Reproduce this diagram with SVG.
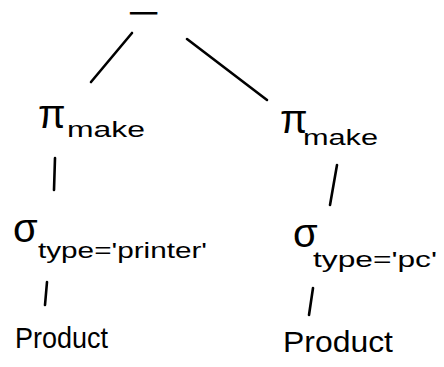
<svg xmlns="http://www.w3.org/2000/svg" width="444" height="367" viewBox="0 0 444 367">
<style>
text{font-family:"Liberation Sans","DejaVu Sans",sans-serif;fill:#000}
.op{font-size:40px}
.sub{font-size:22px}
.rel{font-size:29px}
#edges line{stroke:#000;stroke-width:2.6;stroke-linecap:round}
</style>
<rect width="444" height="367" fill="#fff"/>
<g id="edges">
<line x1="132" y1="33" x2="91" y2="82"/>
<line x1="187" y1="39" x2="267" y2="100"/>
<line x1="55" y1="158" x2="54" y2="190"/>
<line x1="337" y1="165" x2="330" y2="205"/>
<line x1="47" y1="282" x2="45" y2="305"/>
<line x1="313" y1="288" x2="309" y2="315"/>
</g>
<g id="minus"><text x="129" y="19" font-size="18px" stroke="#000" stroke-width="1.2" textLength="29" lengthAdjust="spacingAndGlyphs">−</text></g>
<g id="pi-left"><text class="op" x="38" y="128">π</text><text class="sub" x="67" y="137" textLength="78" lengthAdjust="spacingAndGlyphs">make</text></g>
<g id="pi-right"><text class="op" x="280" y="133">π</text><text class="sub" x="303" y="145" textLength="75" lengthAdjust="spacingAndGlyphs">make</text></g>
<g id="sigma-left"><text class="op" x="13" y="242">σ</text><text class="sub" x="38" y="258" textLength="169" lengthAdjust="spacingAndGlyphs">type='printer'</text></g>
<g id="sigma-right"><text class="op" x="293" y="247">σ</text><text class="sub" x="313" y="267" font-size="24px" textLength="124" lengthAdjust="spacingAndGlyphs">type='pc'</text></g>
<g id="product-left"><text class="rel" x="15" y="348" textLength="93" lengthAdjust="spacingAndGlyphs">Product</text></g>
<g id="product-right"><text class="rel" x="283" y="352" textLength="110" lengthAdjust="spacingAndGlyphs">Product</text></g>
</svg>
